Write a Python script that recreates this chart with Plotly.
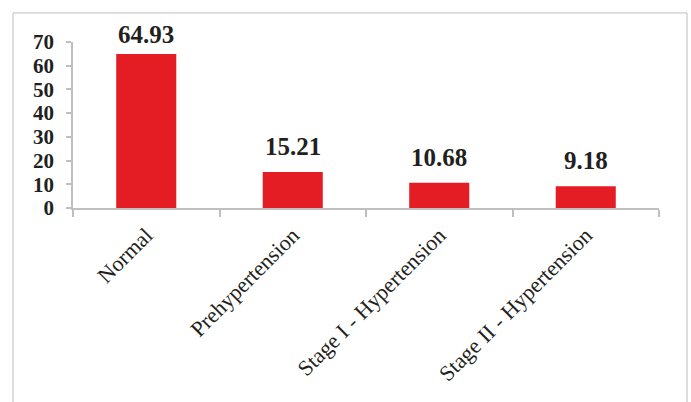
import plotly.graph_objects as go

categories = ["Normal", "Prehypertension", "Stage I - Hypertension", "Stage II - Hypertension"]
values = [64.93, 15.21, 10.68, 9.18]
value_labels = ["64.93", "15.21", "10.68", "9.18"]
y_ticks = [0, 10, 20, 30, 40, 50, 60, 70]

Y_MAX = 70
MARGIN_T, MARGIN_B, HEIGHT = 42, 194, 402
plot_h = HEIGHT - MARGIN_T - MARGIN_B

fig = go.Figure()
fig.add_trace(go.Bar(
    x=categories, y=values,
    marker=dict(color="#E41D25", line=dict(width=0)),
    width=0.41,
    hoverinfo="x+y",
))

for c, v, t in zip(categories, values, value_labels):
    bar_top_px = MARGIN_T + (Y_MAX - v) * plot_h / Y_MAX
    shift = min(10, bar_top_px - 50)  # keep label inside chart area
    fig.add_annotation(x=c, y=v, text=t, showarrow=False, yanchor="bottom", yshift=shift,
                       font=dict(family="Liberation Serif", size=25, color="#231F20", weight="bold"))

fig.add_shape(type="rect", xref="paper", yref="paper", x0=-0.1024, x1=1.0478, y0=-1.3, y1=1.175,
              line=dict(color="#BFBFBF", width=1), fillcolor="rgba(0,0,0,0)")

fig.update_layout(
    width=691, height=HEIGHT,
    margin=dict(l=73, r=32, t=MARGIN_T, b=MARGIN_B),
    paper_bgcolor="white", plot_bgcolor="white",
    showlegend=False,
    xaxis=dict(
        type="category", showline=True, linecolor="#BFBFBF", linewidth=1.5,
        ticks="outside", tickson="boundaries", ticklen=7, tickcolor="#BFBFBF", tickwidth=1.5,
        tickangle=-45, showgrid=False, ticklabelstandoff=4,
        tickfont=dict(family="Liberation Serif", size=22, color="#231F20"),
    ),
    yaxis=dict(
        range=[0, Y_MAX], tickvals=y_ticks, showline=True, linecolor="#BFBFBF", linewidth=1.5,
        ticks="outside", ticklen=5, tickcolor="#BFBFBF", tickwidth=1.5, showgrid=False,
        zeroline=False, ticklabelstandoff=8,
        tickfont=dict(family="Liberation Serif", size=21, color="#231F20", weight="bold"),
    ),
)

fig.write_html("out.html")
